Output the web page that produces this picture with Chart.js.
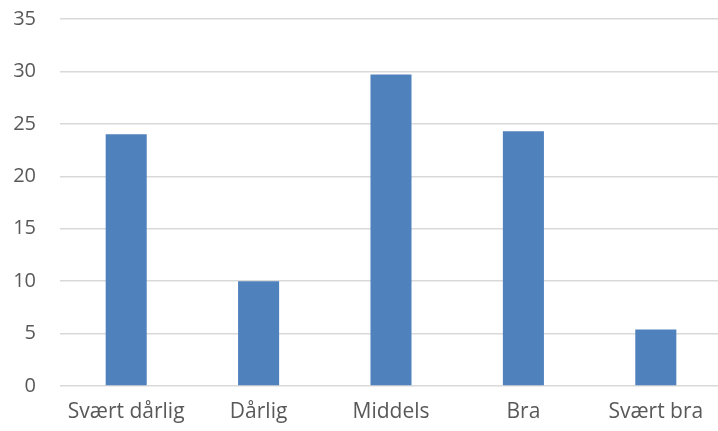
<!DOCTYPE html>
<html>
<head>
<meta charset="utf-8">
<script src="https://cdn.jsdelivr.net/npm/chart.js@4.4.0/dist/chart.umd.min.js"></script>
<style>
html, body { margin:0; padding:0; overflow:hidden; background:#fff; }
#wrap { width:722px; height:448px; margin-top:-17px; position:relative; }
</style>
</head>
<body>
<div id="wrap"><canvas id="c"></canvas></div>
<script>
const categories = ["Svært dårlig", "Dårlig", "Middels", "Bra", "Svært bra"];
const values = [24, 10, 29.7, 24.3, 5.4];
const yMin = 0, yMax = 35, yStep = 5;

new Chart(document.getElementById('c'), {
  type: 'bar',
  data: {
    labels: categories,
    datasets: [{
      data: values,
      backgroundColor: '#4F81BD',
      borderWidth: 0,
      barPercentage: 0.31,
      categoryPercentage: 1
    }]
  },
  options: {
    responsive: true,
    maintainAspectRatio: false,
    animation: false,
    layout: { padding: { top: 0, right: 0, left: 0, bottom: 0 } },
    plugins: { legend: { display: false }, tooltip: { enabled: false } },
    scales: {
      x: {
        grid: { display: false, drawTicks: false },
        border: { display: false },
        ticks: { color: '#595959', font: { family: 'Open Sans', size: 21 }, padding: 13, maxRotation: 0 },
        afterFit: s => { s.height = 45; }
      },
      y: {
        min: yMin, max: yMax,
        grid: { color: '#d9d9d9', lineWidth: 1.5, drawTicks: false },
        border: { display: false },
        ticks: { stepSize: yStep, color: '#595959', font: { family: 'Open Sans', size: 20 }, padding: 24 },
        afterFit: s => { s.width = 60; }
      }
    }
  }
});
</script>
</body>
</html>
